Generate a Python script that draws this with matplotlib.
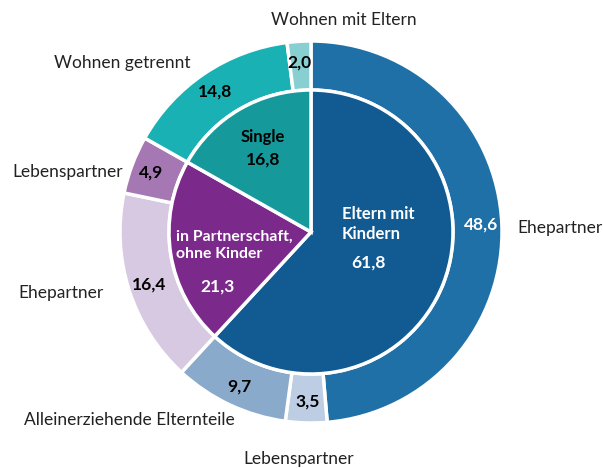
import matplotlib.pyplot as plt
import numpy as np

plt.rcParams['font.family'] = ['Lato', 'DejaVu Sans']

# inner ring: household type
inner_labels = ["Eltern mit\nKindern", "in Partnerschaft,\nohne Kinder", "Single"]
inner_values = [61.8, 21.3, 16.8]
inner_colors = ["#115a92", "#7c298c", "#16999b"]

# outer ring: partner situation
outer_labels = ["Ehepartner", "Lebenspartner", "Alleinerziehende Elternteile",
                "Ehepartner", "Lebenspartner", "Wohnen getrennt", "Wohnen mit Eltern"]
outer_values = [48.6, 3.5, 9.7, 16.4, 4.9, 14.8, 2.0]
outer_colors = ["#1f70a6", "#bccde4", "#8aaacb", "#d8c9e2", "#a678b3", "#1ab1b4", "#87cfd0"]


def fmt(v):
    return f"{v:.1f}".replace(".", ",")


fig = plt.figure(figsize=(6.03, 4.68), dpi=100)
ax = fig.add_axes([0, 0, 1, 1])

cx, cy = 311, 232
R_out, R_in = 191, 142

# y axis is flipped below, so start at -90 and go counterclock in data = clockwise on screen
ax.pie(outer_values, colors=outer_colors, startangle=-90, counterclock=True,
       radius=R_out, center=(cx, cy), frame=True,
       wedgeprops=dict(width=R_out - R_in, edgecolor="white", linewidth=2.5))
ax.pie(inner_values, colors=inner_colors, startangle=-90, counterclock=True,
       radius=R_in, center=(cx, cy), frame=True,
       wedgeprops=dict(edgecolor="white", linewidth=2.5))
ax.set_xlim(0, 603)
ax.set_ylim(468, 0)
ax.set_aspect("equal")
ax.axis("off")

# values on outer ring
outer_text_colors = ["white", "black", "black", "black", "black", "black", "black"]
cum = np.cumsum([0] + outer_values)
for i, v in enumerate(outer_values):
    mid = (cum[i] + cum[i + 1]) / 2 / 100
    ang = np.deg2rad(90 - mid * 360)
    r = 170
    ax.text(cx + r * np.cos(ang), cy - r * np.sin(ang), fmt(v), ha="center", va="center",
            fontsize=12.5, fontweight="bold", color=outer_text_colors[i])

# outer category labels
label_pos = [(517, 228, "left"), (299, 459, "center"), (129, 420, "center"),
             (18, 293, "left"), (12, 172, "left"), (122, 63, "center"), (344, 20, "center")]
for lab, (x, y, ha) in zip(outer_labels, label_pos):
    ax.text(x, y, lab, ha=ha, va="center", fontsize=12.5, color="#222222")

# inner labels (left aligned blocks, value centred below)
inner_pos = [(342, 224, "left"), (176, 245, "left"), (263, 137, "center")]
inner_val_pos = [(368, 263), (218, 287), (263, 160)]
inner_sizes = [12, 11.3, 12]
inner_text_colors = ["white", "white", "black"]
for lab, v, p, q, s, c in zip(inner_labels, inner_values, inner_pos, inner_val_pos,
                              inner_sizes, inner_text_colors):
    ax.text(p[0], p[1], lab, ha=p[2], va="center", fontsize=s, fontweight="bold",
            color=c, linespacing=1.3, multialignment="left")
    ax.text(q[0], q[1], fmt(v), ha="center", va="center", fontsize=12.5, fontweight="bold", color=c)

fig.savefig("out.png", dpi=100)
